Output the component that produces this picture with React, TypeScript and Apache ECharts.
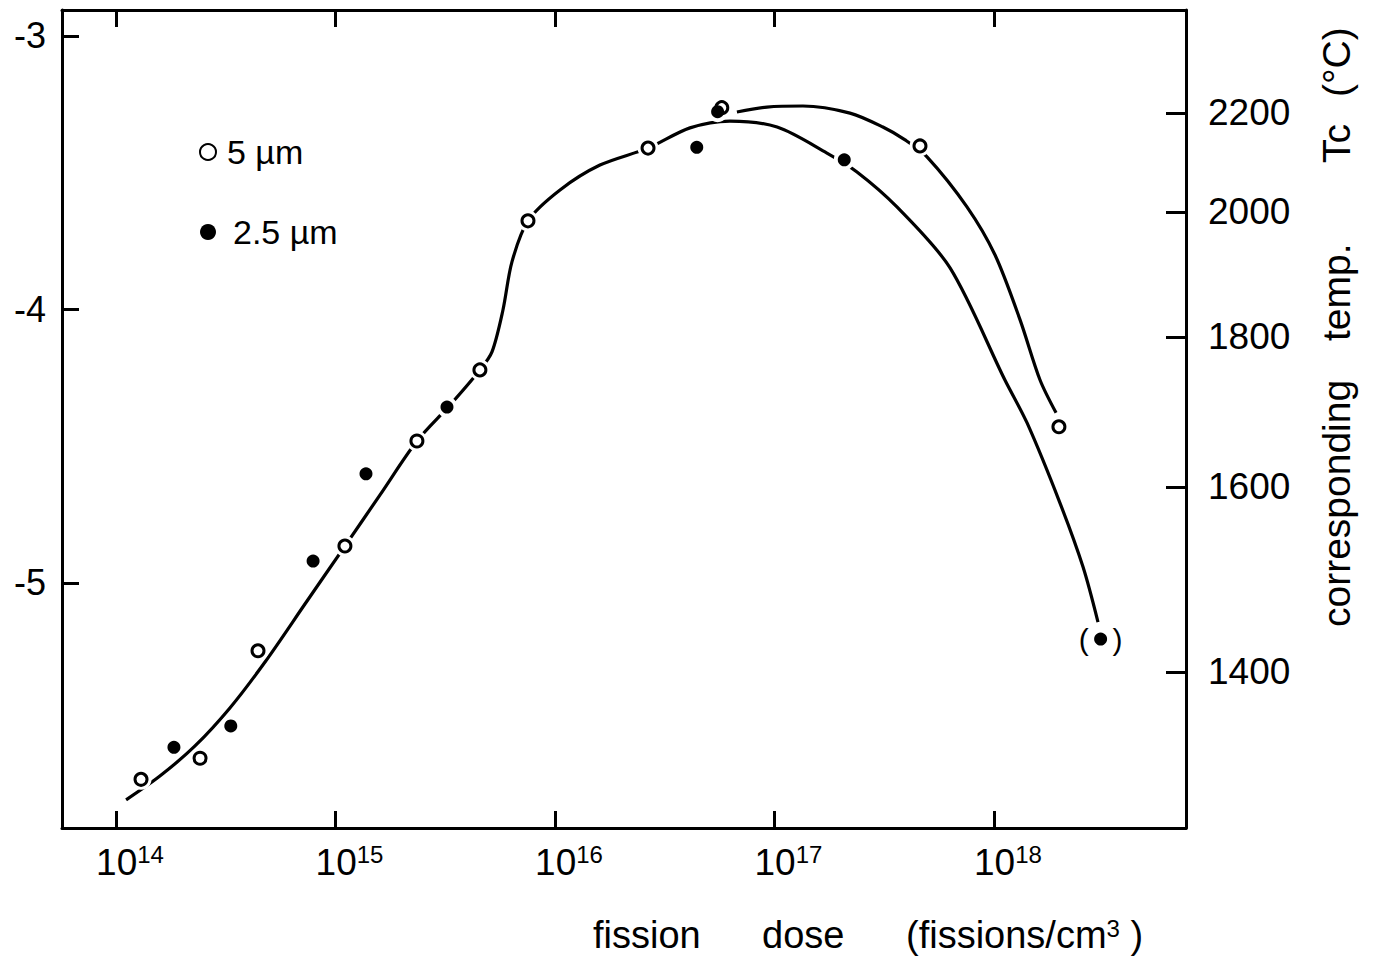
import React, { useEffect, useRef } from "react";
import * as echarts from "echarts";

const FONT = "'Liberation Sans', Arial, sans-serif";

// Measured points: log10 of fission dose (fissions/cm3) and left-axis value
const open5umLogDose = [14.114, 14.383, 14.647, 15.043, 15.371, 15.658, 15.877, 16.424, 16.76, 17.663, 18.296];
const open5umValue = [-5.718, -5.641, -5.248, -4.865, -4.481, -4.221, -3.676, -3.41, -3.262, -3.402, -4.429];
const filled25umLogDose = [14.264, 14.523, 14.898, 15.139, 15.508, 16.646, 16.741, 17.318, 18.486];
const filled25umValue = [-5.601, -5.523, -4.92, -4.601, -4.357, -3.407, -3.277, -3.453, -5.205];

// Hand-drawn curves through the data
const curveALogDose = [14.046, 14.2, 14.36, 14.519, 14.679, 14.861, 15.043, 15.203, 15.371, 15.522, 15.658, 15.713, 15.763, 15.804, 15.877, 16.023, 16.205, 16.424, 16.615, 16.797, 17.012, 17.239, 17.376, 17.558, 17.8, 18.05, 18.151, 18.301, 18.406, 18.474];
const curveAValue = [-5.793, -5.706, -5.596, -5.457, -5.289, -5.077, -4.865, -4.678, -4.481, -4.349, -4.221, -4.155, -4.002, -3.826, -3.676, -3.563, -3.472, -3.41, -3.336, -3.311, -3.333, -3.428, -3.497, -3.625, -3.848, -4.258, -4.415, -4.708, -4.942, -5.143];
const curveBLogDose = [16.829, 16.966, 17.13, 17.344, 17.494, 17.595, 17.695, 17.877, 18.005, 18.119, 18.21, 18.283];
const curveBValue = [-3.278, -3.26, -3.256, -3.282, -3.333, -3.38, -3.442, -3.625, -3.801, -4.038, -4.258, -4.378];

// Axes
const xTickExponents = [14, 15, 16, 17, 18];
const yTickValues = [-5, -4, -3];
const tempLabels = [2200, 2000, 1800, 1600, 1400];
const tempPositions = [-3.2815, -3.6435, -4.1005, -4.649, -5.3254];

const X_MIN = 13.754;
const X_MAX = 18.875;
const Y_MIN = -5.896;
const Y_MAX = -2.905;

const zip = (xs: number[], ys: number[]) => xs.map((x, i) => [x, ys[i]]);

export default function App() {
  const ref = useRef<HTMLDivElement>(null);

  useEffect(() => {
    if (!ref.current) return;
    const chart = echarts.init(ref.current, undefined, { renderer: "svg" });
    const axisLine = { show: true, onZero: false, lineStyle: { color: "#000", width: 3 } };
    const tickStyle = { color: "#000", width: 3 };

    const filledData: any[] = zip(filled25umLogDose, filled25umValue).map((v, i, arr) =>
      i === arr.length - 1
        ? {
            value: v,
            label: {
              show: true,
              position: "inside",
              formatter: "{p|(}{g| }{p|)}",
              rich: {
                p: { fontSize: 30, fontFamily: FONT, color: "#000" },
                g: { width: 24 },
              },
            },
          }
        : v
    );

    const maskData = zip(open5umLogDose, open5umValue).concat(zip(filled25umLogDose, filled25umValue));

    const option: any = {
      animation: false,
      backgroundColor: "#fff",
      textStyle: { fontFamily: FONT },
      grid: { left: 62, right: 188, top: 10, bottom: 131, containLabel: false },
      legend: {
        orient: "vertical",
        left: 194,
        top: 127,
        itemWidth: 16,
        itemHeight: 16,
        itemGap: 40,
        textStyle: { fontSize: 34, color: "#000", fontFamily: FONT, lineHeight: 40 },
        data: [
          { name: "5 µm", textStyle: { padding: [0, 0, 0, 6] } },
          { name: "2.5 µm", textStyle: { padding: [0, 0, 0, 12] } },
        ],
      },
      xAxis: [
        {
          type: "value",
          position: "bottom",
          min: X_MIN,
          max: X_MAX,
          axisLine,
          splitLine: { show: false },
          axisTick: { show: true, inside: true, length: 17, lineStyle: tickStyle, customValues: xTickExponents },
          axisLabel: {
            customValues: xTickExponents,
            margin: 14,
            padding: [0, 0, 0, 28],
            formatter: (v: number) => `{b|10}{s|${v}}`,
            rich: {
              b: { fontSize: 37, color: "#000", fontFamily: FONT, lineHeight: 40 },
              s: { fontSize: 24, color: "#000", fontFamily: FONT, verticalAlign: "top", lineHeight: 22 },
            },
          },
        },
        {
          type: "value",
          position: "top",
          min: X_MIN,
          max: X_MAX,
          axisLine,
          splitLine: { show: false },
          axisTick: { show: true, inside: true, length: 17, lineStyle: tickStyle, customValues: xTickExponents },
          axisLabel: { show: false },
        },
      ],
      yAxis: [
        {
          type: "value",
          position: "left",
          min: Y_MIN,
          max: Y_MAX,
          axisLine,
          splitLine: { show: false },
          axisTick: { show: true, inside: true, length: 17, lineStyle: tickStyle, customValues: yTickValues },
          axisLabel: {
            customValues: yTickValues,
            margin: 16,
            fontSize: 36,
            color: "#000",
            fontFamily: FONT,
            formatter: (v: number) => String(v),
          },
        },
        {
          type: "value",
          position: "right",
          min: Y_MIN,
          max: Y_MAX,
          axisLine,
          splitLine: { show: false },
          axisTick: { show: true, inside: true, length: 20, lineStyle: tickStyle, customValues: tempPositions },
          axisLabel: {
            customValues: tempPositions,
            margin: 22,
            fontSize: 37,
            color: "#000",
            fontFamily: FONT,
            formatter: (v: number) => {
              const i = tempPositions.findIndex((p) => Math.abs(p - v) < 1e-6);
              return i >= 0 ? String(tempLabels[i]) : "";
            },
          },
        },
      ],
      graphic: [
        {
          type: "text",
          x: 593,
          y: 935,
          style: {
            text: "{a|fission}{b|dose}{c|(fissions/cm}{s|3}{c| )}",
            verticalAlign: "middle",
            align: "left",
            fill: "#000",
            rich: {
              a: { fontSize: 38, fontFamily: FONT, width: 169, fill: "#000" },
              b: { fontSize: 38, fontFamily: FONT, width: 144, fill: "#000" },
              c: { fontSize: 38, fontFamily: FONT, fill: "#000" },
              s: { fontSize: 24, fontFamily: FONT, verticalAlign: "top", fill: "#000" },
            },
          },
        },
        {
          type: "text",
          x: 1336,
          y: 627,
          rotation: Math.PI / 2,
          style: {
            text: "{a|corresponding}{b|temp.}{c|Tc}{d|(°C)}",
            verticalAlign: "middle",
            align: "left",
            fill: "#000",
            rich: {
              a: { fontSize: 39, fontFamily: FONT, width: 286, fill: "#000" },
              b: { fontSize: 39, fontFamily: FONT, width: 178, fill: "#000" },
              c: { fontSize: 39, fontFamily: FONT, width: 66, fill: "#000" },
              d: { fontSize: 39, fontFamily: FONT, fill: "#000" },
            },
          },
        },
      ],
      series: [
        {
          type: "line",
          name: "curve 1",
          z: 2,
          data: zip(curveALogDose, curveAValue),
          smooth: 0.3,
          showSymbol: false,
          lineStyle: { color: "#000", width: 3.2 },
          silent: true,
        },
        {
          type: "line",
          name: "curve 2",
          z: 2,
          data: zip(curveBLogDose, curveBValue),
          smooth: 0.3,
          showSymbol: false,
          lineStyle: { color: "#000", width: 3.2 },
          silent: true,
        },
        {
          type: "scatter",
          name: "gap",
          z: 3,
          symbol: "circle",
          symbolSize: 21,
          itemStyle: { color: "#fff", opacity: 1 },
          data: maskData,
          silent: true,
        },
        {
          type: "scatter",
          name: "5 µm",
          z: 4,
          symbol: "circle",
          symbolSize: 12,
          itemStyle: { color: "#fff", borderColor: "#000", borderWidth: 3, opacity: 1 },
          data: zip(open5umLogDose, open5umValue),
        },
        {
          type: "scatter",
          name: "2.5 µm",
          z: 4,
          symbol: "circle",
          symbolSize: 13,
          itemStyle: { color: "#000", opacity: 1 },
          data: filledData,
        },
      ],
    };

    chart.setOption(option);
    return () => chart.dispose();
  }, []);

  return (
    <div
      ref={ref}
      style={{ position: "absolute", left: 0, top: 0, width: 1374, height: 959, background: "#fff" }}
    />
  );
}
